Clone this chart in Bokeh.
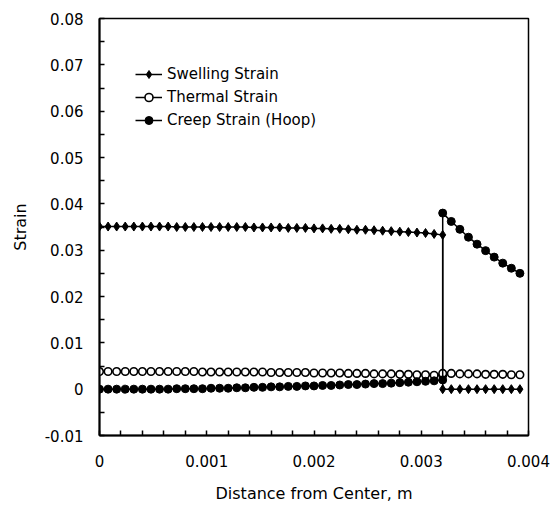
from bokeh.plotting import figure
from bokeh.models import (FixedTicker, CustomJSTickFormatter, Legend, LegendItem,
                          ColumnDataSource)
from bokeh.embed import file_html
from bokeh.resources import INLINE

# ---------------- data ----------------
x_left = [0.0, 0.00008, 0.00016, 0.00024, 0.00032, 0.0004, 0.00048, 0.00056, 0.00064, 0.00072,
          0.0008, 0.00088, 0.00096, 0.00104, 0.00112, 0.0012, 0.00128, 0.00136, 0.00144, 0.00152,
          0.0016, 0.00168, 0.00176, 0.00184, 0.00192, 0.002, 0.00208, 0.00216, 0.00224, 0.00232,
          0.0024, 0.00248, 0.00256, 0.00264, 0.00272, 0.0028, 0.00288, 0.00296, 0.00304, 0.00312,
          0.0032]
x_right = [0.0032, 0.00328, 0.00336, 0.00344, 0.00352, 0.0036, 0.00368, 0.00376, 0.00384, 0.00392]

swelling_left = [0.0351, 0.0351, 0.0351, 0.0351, 0.0351, 0.0351, 0.0351, 0.0351, 0.0351, 0.0350,
                 0.0350, 0.0350, 0.0350, 0.0350, 0.0350, 0.0350, 0.0350, 0.0350, 0.0349, 0.0349,
                 0.0349, 0.0349, 0.0348, 0.0348, 0.0348, 0.0347, 0.0347, 0.0346, 0.0346, 0.0345,
                 0.0344, 0.0344, 0.0343, 0.0342, 0.0341, 0.0340, 0.0339, 0.0338, 0.0337, 0.0335,
                 0.0333]
swelling_right = [0.0, 0.0, 0.0, 0.0, 0.0, 0.0, 0.0, 0.0, 0.0, 0.0]

thermal_left = [0.0038, 0.0038, 0.0038, 0.0038, 0.0038, 0.0038, 0.0038, 0.0038, 0.0038, 0.0038,
                0.0038, 0.0038, 0.0037, 0.0037, 0.0037, 0.0037, 0.0037, 0.0037, 0.0037, 0.0037,
                0.0036, 0.0036, 0.0036, 0.0036, 0.0036, 0.0035, 0.0035, 0.0035, 0.0035, 0.0034,
                0.0034, 0.0034, 0.0033, 0.0033, 0.0033, 0.0032, 0.0032, 0.0031, 0.0031, 0.0030,
                0.0030]
thermal_right = [0.0034, 0.0034, 0.0033, 0.0033, 0.0033, 0.0032, 0.0032, 0.0032, 0.0031, 0.0031]

creep_left = [0.0, 0.0, 0.0, 0.0, 0.0, 0.0, 0.0, 0.0, 0.0, 0.0001,
              0.0001, 0.0001, 0.0001, 0.0002, 0.0002, 0.0002, 0.0003, 0.0003, 0.0004, 0.0004,
              0.0005, 0.0005, 0.0006, 0.0006, 0.0007, 0.0007, 0.0008, 0.0008, 0.0009, 0.0010,
              0.0010, 0.0011, 0.0012, 0.0012, 0.0013, 0.0014, 0.0015, 0.0016, 0.0017, 0.0018,
              0.0020]
creep_right = [0.0380, 0.0362, 0.0345, 0.0328, 0.0313, 0.0299, 0.0285, 0.0272, 0.0261, 0.0250]

x_ticks = [0.0, 0.001, 0.002, 0.003, 0.004]
x_minor = [0.0002, 0.0004, 0.0006, 0.0008, 0.0012, 0.0014, 0.0016, 0.0018,
           0.0022, 0.0024, 0.0026, 0.0028, 0.0032, 0.0034, 0.0036, 0.0038]
y_ticks = [-0.01, 0.0, 0.01, 0.02, 0.03, 0.04, 0.05, 0.06, 0.07, 0.08]
y_minor = [-0.005, 0.005, 0.015, 0.025, 0.035, 0.045, 0.055, 0.065, 0.075]

labels = ["Swelling Strain", "Thermal Strain", "Creep Strain (Hoop)"]

# ---------------- figure ----------------
FONT = "DejaVu Sans"
x_all = x_left + x_right
src = ColumnDataSource(dict(
    x=x_all,
    swelling=swelling_left + swelling_right,
    thermal=thermal_left + thermal_right,
    creep=creep_left + creep_right,
))

p = figure(width=559, height=517, x_range=(0, 0.004), y_range=(-0.01, 0.08),
           output_backend="svg", toolbar_location=None,
           min_border_left=99, min_border_right=31, min_border_top=18, min_border_bottom=82)
p.background_fill_color = "white"
p.border_fill_color = "white"
p.outline_line_color = "black"
p.outline_line_width = 1.5
p.xgrid.visible = False
p.ygrid.visible = False

for ax in (p.xaxis[0], p.yaxis[0]):
    ax.axis_line_color = "black"
    ax.axis_line_width = 2
    ax.major_tick_in = 5
    ax.major_tick_out = 0
    ax.minor_tick_in = 5
    ax.minor_tick_out = 0
    ax.major_tick_line_color = "black"
    ax.minor_tick_line_color = "black"
    ax.major_tick_line_width = 1.5
    ax.minor_tick_line_width = 1.5
    ax.major_label_text_font = FONT
    ax.major_label_text_font_size = "15px"
    ax.major_label_text_color = "black"
    ax.axis_label_text_font = FONT
    ax.axis_label_text_font_size = "16px"
    ax.axis_label_text_font_style = "normal"
    ax.axis_label_text_color = "black"

p.xaxis[0].ticker = FixedTicker(ticks=x_ticks, minor_ticks=x_minor)
p.yaxis[0].ticker = FixedTicker(ticks=y_ticks, minor_ticks=y_minor)
p.xaxis[0].formatter = CustomJSTickFormatter(code="return String(Math.round(tick*10000)/10000);")
p.yaxis[0].formatter = CustomJSTickFormatter(code="return String(Math.round(tick*1000)/1000);")
p.xaxis[0].major_label_standoff = 19
p.yaxis[0].major_label_standoff = 16
p.xaxis[0].axis_label = "Distance from Center, m"
p.yaxis[0].axis_label = "Strain"
p.xaxis[0].axis_label_standoff = 14
p.yaxis[0].axis_label_standoff = 12

l1 = p.line("x", "swelling", source=src, line_color="black", line_width=1.5)
s1 = p.scatter("x", "swelling", source=src, marker="diamond", size=9,
               fill_color="black", line_color="black", line_width=1)
l2 = p.line("x", "thermal", source=src, line_color="black", line_width=1.5)
s2 = p.scatter("x", "thermal", source=src, marker="circle", size=7.5,
               fill_color="white", line_color="black", line_width=1.6)
l3 = p.line("x", "creep", source=src, line_color="black", line_width=1.5)
s3 = p.scatter("x", "creep", source=src, marker="circle", size=8,
               fill_color="black", line_color="black", line_width=1)

legend = Legend(items=[LegendItem(label=labels[0], renderers=[l1, s1]),
                       LegendItem(label=labels[1], renderers=[l2, s2]),
                       LegendItem(label=labels[2], renderers=[l3, s3])],
                location=(31, 300), border_line_alpha=0, background_fill_alpha=0,
                label_text_font=FONT, label_text_font_size="15px", label_text_color="black",
                glyph_width=27, glyph_height=20, label_height=20, spacing=3,
                padding=5, label_standoff=5, margin=0)
p.add_layout(legend)

open("out.html", "w").write(file_html(p, INLINE))
